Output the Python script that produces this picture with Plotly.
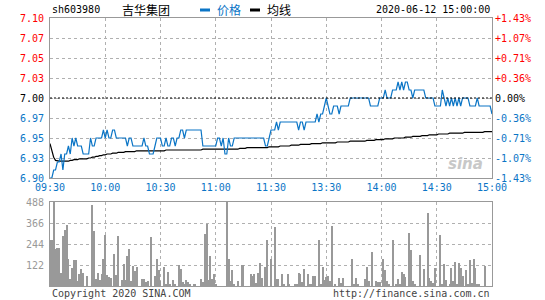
import plotly.graph_objects as go

# ---------------- data ----------------
minute_ticks = [0, 30, 60, 90, 120, 150, 180, 210, 240]
time_labels = ["09:30", "10:00", "10:30", "11:00", "11:30", "13:30", "14:00", "14:30", "15:00"]

prev_close = 7.00
price_levels = [6.90, 6.925, 6.95, 6.975, 7.00, 7.025, 7.05, 7.075, 7.10]
price_labels = ["6.90", "6.93", "6.95", "6.97", "7.00", "7.03", "7.05", "7.07", "7.10"]
pct_labels = ["-1.43%", "-1.07%", "-0.71%", "-0.36%", "0.00%", "+0.36%", "+0.71%", "+1.07%", "+1.43%"]

price = [
    6.90, 6.90, 6.91, 6.91, 6.92, 6.92, 6.93, 6.91, 6.93, 6.93,
    6.94, 6.93, 6.95, 6.94, 6.95, 6.94, 6.94, 6.94, 6.93, 6.93,
    6.93, 6.93, 6.95, 6.94, 6.94, 6.95, 6.95, 6.95, 6.95, 6.96,
    6.95, 6.96, 6.95, 6.95, 6.96, 6.96, 6.95, 6.95, 6.95, 6.95,
    6.95, 6.95, 6.94, 6.95, 6.95, 6.94, 6.94, 6.94, 6.94, 6.94,
    6.94, 6.95, 6.94, 6.94, 6.93, 6.93, 6.93, 6.94, 6.95, 6.95,
    6.95, 6.94, 6.94, 6.95, 6.94, 6.94, 6.95, 6.95, 6.94, 6.95,
    6.95, 6.96, 6.96, 6.95, 6.96, 6.96, 6.96, 6.96, 6.96, 6.96,
    6.96, 6.96, 6.96, 6.94, 6.94, 6.94, 6.94, 6.94, 6.94, 6.94,
    6.94, 6.95, 6.95, 6.94, 6.95, 6.93, 6.93, 6.95, 6.94, 6.94,
    6.95, 6.95, 6.95, 6.95, 6.95, 6.95, 6.95, 6.95, 6.95, 6.95,
    6.95, 6.95, 6.95, 6.95, 6.95, 6.95, 6.95, 6.94, 6.94, 6.95,
    6.96, 6.96, 6.96, 6.97, 6.96, 6.97, 6.97, 6.97, 6.97, 6.97,
    6.97, 6.97, 6.97, 6.97, 6.97, 6.96, 6.97, 6.97, 6.96, 6.97,
    6.97, 6.97, 6.97, 6.97, 6.97, 6.98, 6.97, 6.98, 6.98, 6.99,
    7.00, 6.99, 6.98, 6.98, 6.99, 6.99, 6.99, 6.98, 6.99, 6.99,
    6.99, 6.99, 6.99, 7.00, 7.00, 7.00, 7.00, 7.00, 7.00, 7.00,
    7.00, 7.00, 7.00, 7.00, 6.99, 6.99, 6.99, 6.99, 6.99, 7.00,
    7.00, 7.00, 7.01, 7.00, 7.00, 7.00, 7.01, 7.01, 7.01, 7.02,
    7.01, 7.02, 7.01, 7.02, 7.02, 7.01, 7.01, 7.00, 7.01, 7.01,
    7.01, 7.01, 7.01, 7.01, 7.00, 7.00, 7.00, 7.00, 7.00, 6.99,
    6.99, 6.99, 6.99, 7.01, 7.00, 6.99, 7.00, 6.99, 7.00, 6.99,
    7.00, 6.99, 7.00, 6.99, 7.00, 7.00, 7.00, 7.00, 6.99, 6.99,
    6.99, 6.99, 7.00, 6.99, 6.99, 6.99, 6.99, 6.99, 6.99, 6.99,
    6.98,
]

avg_price = [
    6.943, 6.935, 6.926, 6.922, 6.921, 6.921, 6.921, 6.921, 6.921, 6.921,
    6.921, 6.922, 6.922, 6.923, 6.923, 6.923, 6.924, 6.924, 6.924, 6.924,
    6.924, 6.925, 6.925, 6.926, 6.926, 6.927, 6.927, 6.928, 6.928, 6.929,
    6.929, 6.930, 6.930, 6.930, 6.931, 6.931, 6.931, 6.932, 6.932, 6.932,
    6.932, 6.933, 6.933, 6.933, 6.933, 6.933, 6.933, 6.934, 6.934, 6.934,
    6.934, 6.934, 6.934, 6.934, 6.934, 6.934, 6.934, 6.934, 6.934, 6.934,
    6.934, 6.934, 6.934, 6.935, 6.935, 6.935, 6.935, 6.935, 6.935, 6.935,
    6.935, 6.935, 6.935, 6.935, 6.935, 6.935, 6.935, 6.935, 6.935, 6.935,
    6.935, 6.935, 6.935, 6.936, 6.936, 6.936, 6.936, 6.936, 6.936, 6.936,
    6.936, 6.936, 6.936, 6.936, 6.936, 6.936, 6.936, 6.936, 6.936, 6.936,
    6.936, 6.936, 6.936, 6.937, 6.937, 6.937, 6.937, 6.938, 6.938, 6.938,
    6.938, 6.938, 6.938, 6.938, 6.938, 6.938, 6.938, 6.938, 6.938, 6.939,
    6.939, 6.939, 6.939, 6.939, 6.939, 6.940, 6.940, 6.940, 6.940, 6.940,
    6.940, 6.941, 6.941, 6.941, 6.941, 6.941, 6.942, 6.942, 6.942, 6.942,
    6.942, 6.942, 6.943, 6.943, 6.943, 6.943, 6.943, 6.943, 6.944, 6.944,
    6.944, 6.944, 6.944, 6.944, 6.944, 6.944, 6.945, 6.945, 6.945, 6.945,
    6.945, 6.945, 6.945, 6.946, 6.946, 6.946, 6.946, 6.946, 6.946, 6.946,
    6.946, 6.946, 6.947, 6.947, 6.947, 6.947, 6.947, 6.948, 6.948, 6.948,
    6.948, 6.948, 6.949, 6.949, 6.949, 6.949, 6.949, 6.950, 6.950, 6.950,
    6.950, 6.950, 6.950, 6.951, 6.951, 6.951, 6.951, 6.952, 6.952, 6.952,
    6.952, 6.952, 6.953, 6.953, 6.953, 6.953, 6.954, 6.954, 6.954, 6.954,
    6.954, 6.955, 6.955, 6.955, 6.955, 6.955, 6.955, 6.956, 6.956, 6.956,
    6.956, 6.956, 6.956, 6.956, 6.956, 6.957, 6.957, 6.957, 6.957, 6.957,
    6.957, 6.957, 6.957, 6.957, 6.957, 6.957, 6.958, 6.958, 6.958, 6.958,
    6.958,
]

vol_minute = [
    0, 1, 2, 3, 4, 5, 6, 7, 8, 9, 10, 11, 12, 13, 14, 15, 16, 17, 18, 20,
    23, 24, 25, 26, 27, 28, 29, 30, 31, 32, 33, 35, 36, 37, 39, 40, 41, 42, 43, 44,
    45, 46, 47, 50, 51, 52, 53, 55, 57, 58, 59, 60, 62, 63, 64, 65, 67, 68, 70, 71,
    72, 73, 74, 75, 76, 78, 79, 82, 83, 84, 85, 86, 87, 88, 89, 90, 96, 97, 98, 99,
    100, 102, 104, 105, 109, 110, 111, 112, 113, 114, 115, 117, 118, 120, 122, 123, 124, 126, 127, 129,
    130, 133, 134, 135, 136, 137, 138, 140, 141, 142, 143, 144, 146, 147, 148, 149, 150, 151, 152, 153,
    155, 157, 158, 159, 164, 165, 166, 167, 171, 172, 173, 175, 177, 178, 179, 181, 182, 183, 184, 186,
    188, 189, 190, 191, 192, 193, 195, 196, 197, 198, 201, 203, 205, 206, 207, 208, 209, 212, 213, 214,
    215, 217, 218, 219, 220, 221, 222, 223, 224, 226, 227, 228, 229, 230, 231, 232, 233, 236,
]
vol_value = [
    265, 265, 488, 217, 223, 223, 77, 289, 323, 352, 159, 39, 106, 149, 149, 29, 68, 97, 76, 56,
    469, 318, 43, 76, 37, 68, 155, 294, 62, 52, 48, 184, 62, 289, 37, 126, 33, 172, 213, 29,
    114, 85, 110, 43, 43, 23, 29, 285, 56, 155, 91, 27, 110, 14, 81, 8, 33, 14, 120, 97,
    21, 14, 33, 21, 8, 8, 8, 39, 23, 304, 362, 37, 172, 39, 72, 8, 488, 159, 29, 91,
    14, 29, 120, 120, 68, 58, 68, 19, 76, 134, 48, 110, 269, 155, 343, 39, 39, 68, 8, 68,
    14, 8, 8, 76, 68, 23, 97, 68, 14, 8, 56, 56, 265, 8, 110, 37, 52, 56, 29, 349,
    8, 46, 17, 46, 155, 14, 46, 8, 39, 110, 27, 198, 29, 21, 21, 155, 91, 27, 8, 265,
    8, 39, 8, 81, 72, 52, 308, 211, 27, 8, 178, 97, 424, 46, 29, 17, 106, 294, 8, 126,
    37, 8, 105, 29, 139, 8, 134, 105, 56, 91, 8, 149, 17, 155, 105, 8, 14, 114,
]
vol_ticks = [122, 244, 366, 488]

# ---------------- styling ----------------
BLUE = "#0b75c6"
RED = "#ff0000"
GRAY = "#999999"
GRID = "#b0b0b0"
MONO = "DejaVu Sans Mono, Liberation Mono, monospace"
CJK = "Noto Sans CJK SC, sans-serif"


def colored(lbl, lvl):
    if lvl > prev_close:
        c = RED
    elif lvl < prev_close:
        c = BLUE
    else:
        c = "#000000"
    return f'<span style="color:{c}">{lbl}</span>'


fig = go.Figure()
fig.add_trace(go.Scatter(x=list(range(len(avg_price))), y=avg_price, mode="lines",
                         line=dict(color="#000000", width=1.2), xaxis="x", yaxis="y",
                         hoverinfo="skip"))
fig.add_trace(go.Scatter(x=list(range(len(price))), y=price, mode="lines",
                         line=dict(color=BLUE, width=1.2), xaxis="x", yaxis="y",
                         hoverinfo="skip"))
fig.add_trace(go.Bar(x=vol_minute, y=vol_value, width=0.55, marker=dict(color=GRAY, line_width=0),
                     xaxis="x2", yaxis="y2", hoverinfo="skip"))

price_dom = [108 / 268, 1.0]
vol_dom = [0.0, 84 / 268]

axis_common = dict(showline=True, linecolor=GRAY, linewidth=1, mirror=True,
                   showgrid=True, gridcolor=GRID, griddash="dot", gridwidth=1,
                   zeroline=False, ticks="", fixedrange=True)

fig.update_layout(
    width=545, height=300,
    margin=dict(l=50, r=53, t=18, b=14, autoexpand=False),
    paper_bgcolor="white", plot_bgcolor="white",
    showlegend=False,
    bargap=0,
    xaxis=dict(domain=[0, 1], range=[0, 240], anchor="y",
               tickvals=minute_ticks, ticktext=time_labels,
               tickfont=dict(family=MONO, size=10, color=BLUE), **axis_common),
    yaxis=dict(domain=price_dom, range=[price_levels[0], price_levels[-1]], anchor="x",
               tickvals=price_levels,
               ticktext=[colored(l, v) for l, v in zip(price_labels, price_levels)],
               tickfont=dict(family=MONO, size=10), ticklabelstandoff=3, **axis_common),
    xaxis2=dict(domain=[0, 1], range=[0, 240], anchor="y2", matches="x",
                tickvals=minute_ticks, showticklabels=False, **axis_common),
    yaxis2=dict(domain=vol_dom, range=[0, vol_ticks[-1]], anchor="x2",
                tickvals=vol_ticks, ticktext=[str(v) for v in vol_ticks],
                tickfont=dict(family=MONO, size=10, color=GRAY), ticklabelstandoff=3,
                **axis_common),
)

# previous close reference line
fig.add_shape(type="line", xref="x", yref="y", x0=0, x1=240, y0=prev_close, y1=prev_close,
              line=dict(color="#000000", width=1, dash="2px,2px"), layer="above")

# right-hand percent labels
for lvl, lbl in zip(price_levels, pct_labels):
    c = RED if lvl > prev_close else (BLUE if lvl < prev_close else "#000000")
    fig.add_annotation(xref="paper", yref="y", x=1.0, y=lvl, text=lbl, showarrow=False,
                       xanchor="left", xshift=1, yanchor="middle",
                       font=dict(family=MONO, size=10, color=c))

# header
ytop = 1 + 8 / 268
fig.add_annotation(xref="paper", yref="paper", x=0, y=ytop, text="sh603980", showarrow=False,
                   xanchor="left", yanchor="middle", font=dict(family=MONO, size=10, color="#000"))
fig.add_annotation(xref="paper", yref="paper", x=70 / 442, y=ytop, text="吉华集团", showarrow=False,
                   xanchor="left", yanchor="middle", font=dict(family=CJK, size=12, color="#000"))
fig.add_shape(type="rect", xref="paper", yref="paper", x0=150 / 442, x1=160 / 442,
              y0=ytop - 1.5 / 268, y1=ytop + 1.5 / 268, fillcolor=BLUE, line_width=0)
fig.add_annotation(xref="paper", yref="paper", x=165 / 442, y=ytop, text="价格", showarrow=False,
                   xanchor="left", yanchor="middle", font=dict(family=CJK, size=12, color=BLUE))
fig.add_shape(type="rect", xref="paper", yref="paper", x0=200 / 442, x1=210 / 442,
              y0=ytop - 1.5 / 268, y1=ytop + 1.5 / 268, fillcolor="#000", line_width=0)
fig.add_annotation(xref="paper", yref="paper", x=215 / 442, y=ytop, text="均线", showarrow=False,
                   xanchor="left", yanchor="middle", font=dict(family=CJK, size=12, color="#000"))
fig.add_annotation(xref="paper", yref="paper", x=1.0, y=ytop, text="2020-06-12 15:00:00",
                   showarrow=False, xanchor="right", yanchor="middle",
                   font=dict(family=MONO, size=10, color="#000"))

# footer
ybot = -7 / 268
fig.add_annotation(xref="paper", yref="paper", x=0, y=ybot, text="Copyright 2020 SINA.COM",
                   showarrow=False, xanchor="left", yanchor="middle",
                   font=dict(family=MONO, size=10, color="#444"))
fig.add_annotation(xref="paper", yref="paper", x=1.0, y=ybot, text="http://finance.sina.com.cn",
                   showarrow=False, xanchor="right", yanchor="middle",
                   font=dict(family=MONO, size=10, color="#444"))

# watermark
fig.add_annotation(xref="paper", yref="paper", x=0.985, y=(286 - 164) / 268, text="<i><b>sina</b></i>",
                   showarrow=False, xanchor="right", yanchor="middle",
                   font=dict(family="DejaVu Sans", size=15, color="#c8c8c8"))

fig.write_html("out.html")
